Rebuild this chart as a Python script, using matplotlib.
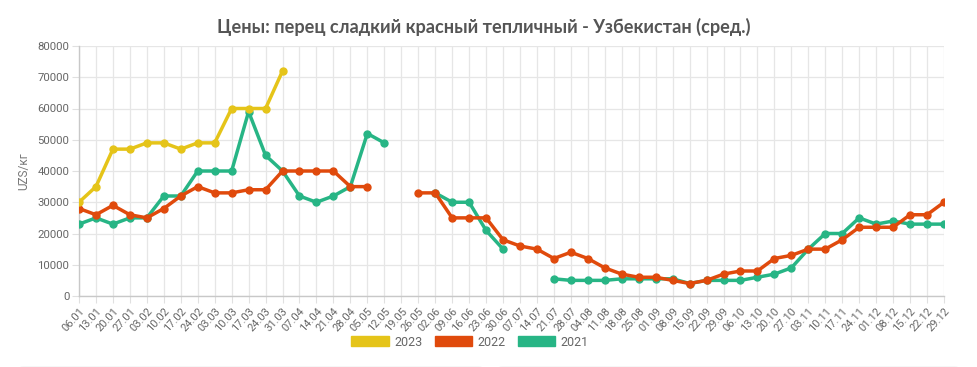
import numpy as np
import matplotlib
matplotlib.use("Agg")
import matplotlib.pyplot as plt
from matplotlib.patches import Patch, FancyBboxPatch

nan = np.nan

weeks = ["06.01", "13.01", "20.01", "27.01", "03.02", "10.02", "17.02", "24.02",
         "03.03", "10.03", "17.03", "24.03", "31.03", "07.04", "14.04", "21.04",
         "28.04", "05.05", "12.05", "19.05", "26.05", "02.06", "09.06", "16.06",
         "23.06", "30.06", "07.07", "14.07", "21.07", "28.07", "04.08", "11.08",
         "18.08", "25.08", "01.09", "08.09", "15.09", "22.09", "29.09", "06.10",
         "13.10", "20.10", "27.10", "03.11", "10.11", "17.11", "24.11", "01.12",
         "08.12", "15.12", "22.12", "29.12"]

# 2023 prices (only up to end of March)
y2023 = [30000, 35000, 47000, 47000, 49000, 49000, 47000, 49000, 49000, 60000,
         60000, 60000, 72000]

y2022 = [28000, 26000, 29000, 26000, 25000, 28000, 32000, 35000, 33000, 33000,
         34000, 34000, 40000, 40000, 40000, 40000, 35000, 35000, nan, nan,
         33000, 33000, 25000, 25000, 25000, 18000, 16000, 15000, 12000, 14000,
         12000, 9000, 7000, 6000, 6000, 5000, 4000, 5000, 7000, 8000,
         8000, 12000, 13000, 15000, 15000, 18000, 22000, 22000, 22000, 26000,
         26000, 30000]

y2021 = [23000, 25000, 23000, 25000, 25000, 32000, 32000, 40000, 40000, 40000,
         59000, 45000, 40000, 32000, 30000, 32000, 35000, 52000, 49000, nan,
         nan, 33000, 30000, 30000, 21000, 15000, nan, nan, 5500, 5000,
         5000, 5000, 5500, 5500, 5500, 5500, 4000, 5000, 5000, 5000,
         6000, 7000, 9000, 15000, 20000, 20000, 25000, 23000, 24000, 23000,
         23000, 23000]

series = [("2023", y2023, "#e5c419"), ("2022", y2022, "#e04a0c"), ("2021", y2021, "#27b585")]

W, H = 978, 367
fig = plt.figure(figsize=(W / 100, H / 100), dpi=100)
ax = fig.add_axes([79 / W, (H - 296) / H, 865 / W, 250 / H])

x = np.arange(len(weeks))
# draw 2021 first so that newer years sit on top
for name, vals, col in series[::-1]:
    xs = x[:len(vals)]
    ax.plot(xs, vals, color=col, lw=2.5, marker="o", ms=5, mfc=col, mec=col, zorder=3)

ax.set_xlim(0, len(weeks) - 1)
ax.set_ylim(0, 80000)
ax.set_yticks(np.arange(0, 80001, 10000))
ax.set_xticks(x)
ax.set_xticklabels(weeks, rotation=48, ha="right", rotation_mode="anchor",
                   fontsize=8, color="#666666", family="Roboto")
for lab in ax.get_yticklabels():
    lab.set_fontsize(8.2)
    lab.set_color("#666666")
    lab.set_family("Roboto")
ax.grid(True, color="#e6e6e6", lw=0.9)
ax.set_axisbelow(True)
for s in ["top", "right"]:
    ax.spines[s].set_visible(False)
for s in ["left", "bottom"]:
    ax.spines[s].set_color("#c8c8c8")
    ax.spines[s].set_linewidth(1.0)
ax.tick_params(axis="both", length=5, color="#e0e0e0", pad=2)
ax.set_ylabel("UZS/кг", fontsize=8.5, color="#777777", family="Roboto")
ax.yaxis.set_label_coords(-49 / 865, 0.5)

fig.text(484 / W, 1 - 27 / H, "Цены: перец сладкий красный тепличный - Узбекистан (сред.)",
         ha="center", va="center", fontsize=13.1, fontweight="bold", color="#555555",
         family="Lato")

handles = [Patch(facecolor=c, edgecolor=c, label=n) for n, v, c in series]
leg = fig.legend(handles=handles, loc="center", bbox_to_anchor=(470 / W, 1 - 342 / H),
                 ncol=3, frameon=False, handlelength=3.0, handleheight=0.9,
                 handletextpad=0.4, columnspacing=1.0,
                 prop={"family": "Roboto", "size": 9})
for t in leg.get_texts():
    t.set_color("#666666")

# faint card edges at the bottom of the screenshot
for x0, x1 in [(19, 483), (498, 959)]:
    fig.patches.append(FancyBboxPatch((x0 / W, -0.02), (x1 - x0) / W, (8 / H),
                                      boxstyle="round,pad=0,rounding_size=0.005",
                                      transform=fig.transFigure, facecolor="#f2f2f2",
                                      edgecolor="none"))

fig.savefig("out.png", dpi=100)
